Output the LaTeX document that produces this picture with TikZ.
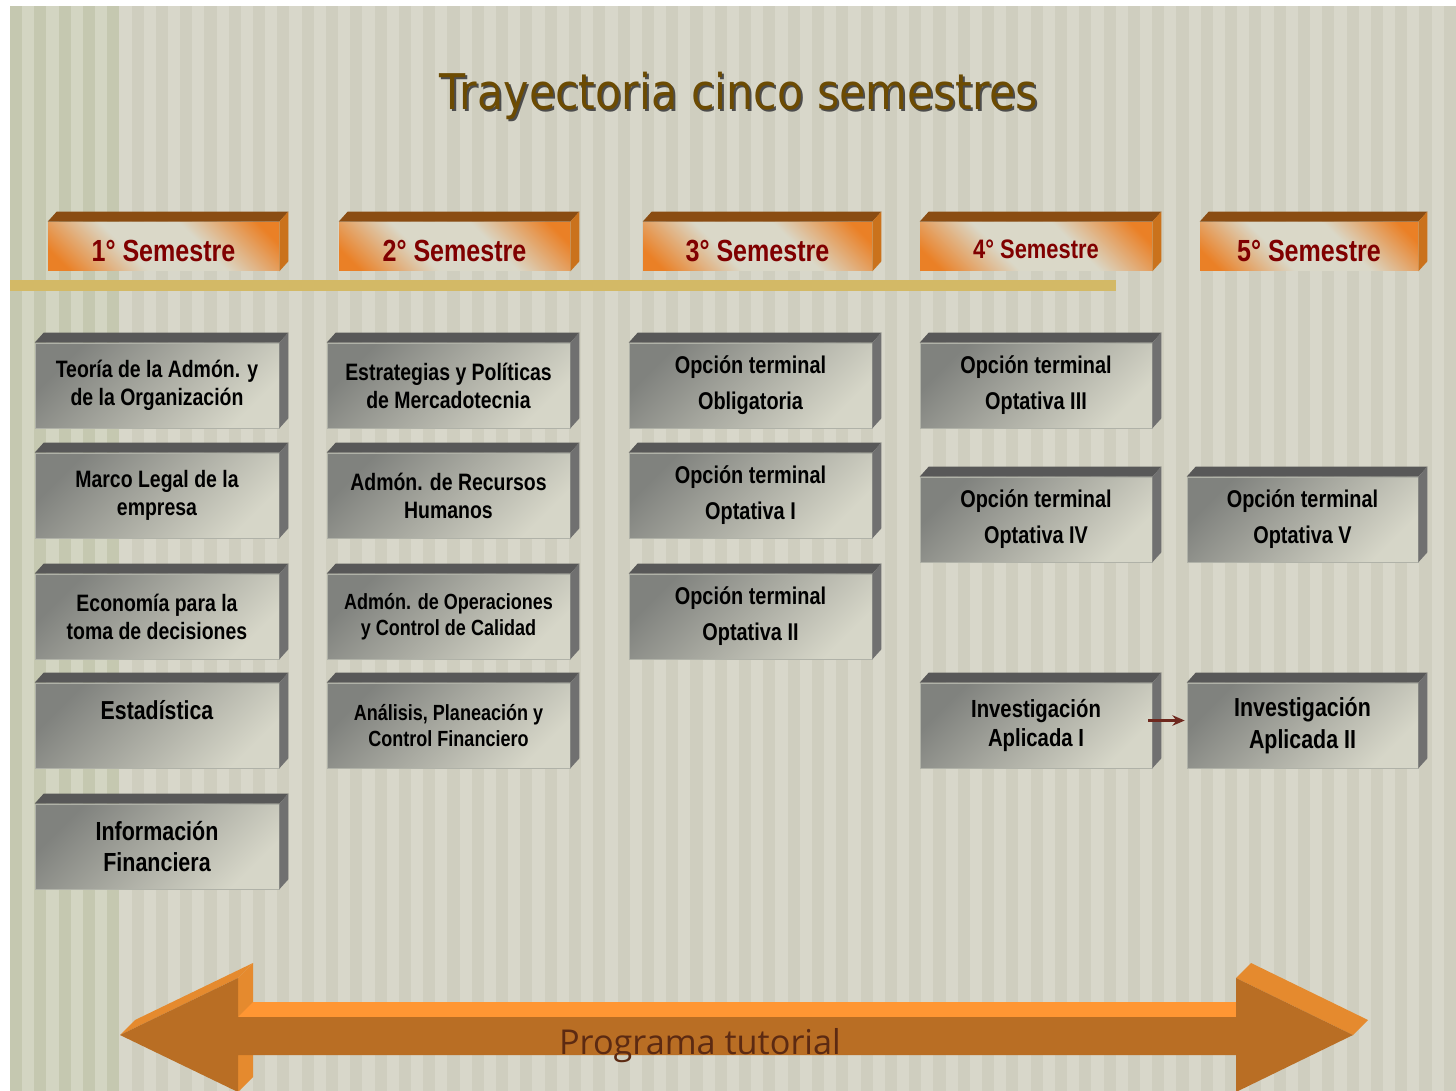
\documentclass[tikz,border=0pt]{standalone}
\usepackage{fontspec}
\setmainfont{Liberation Sans}
\newfontfamily\narrowsans{Liberation Sans}[FakeStretch=0.82]
\newfontfamily\titlesans{DejaVu Sans}[FakeStretch=0.87]
\newfontfamily\tutorsans{Open Sans}
\usetikzlibrary{arrows.meta, calc}
\definecolor{stripelight}{RGB}{216, 215, 202}
\definecolor{stripedark}{RGB}{207, 206, 191}
\definecolor{sagelight}{RGB}{211, 213, 194}
\definecolor{sagedark}{RGB}{197, 200, 176}
\definecolor{goldbar}{RGB}{211, 185, 102}
\definecolor{titlebrown}{RGB}{108, 75, 2}
\definecolor{semred}{RGB}{128, 0, 0}
\definecolor{semorange}{RGB}{234, 128, 38}
\definecolor{semlight}{RGB}{218, 216, 200}
\definecolor{semtop}{RGB}{138, 76, 18}
\definecolor{semside}{RGB}{202, 114, 28}
\definecolor{boxdark}{RGB}{128, 130, 126}
\definecolor{boxlight}{RGB}{214, 214, 200}
\definecolor{boxedge}{RGB}{176, 178, 168}
\definecolor{boxtop}{RGB}{88, 88, 88}
\definecolor{boxside}{RGB}{112, 112, 112}
\definecolor{arrowfront}{RGB}{185, 110, 36}
\definecolor{arrowlight}{RGB}{255, 150, 51}
\definecolor{arrowbevel}{RGB}{229, 138, 46}
\definecolor{tutorbrown}{RGB}{92, 42, 18}
\definecolor{linkbrown}{RGB}{110, 40, 30}
% Header face: orange corners, light diagonal band
\pgfdeclareverticalshading{semshade}{100bp}{color(0bp)=(semorange); color(20bp)=(semorange);
    color(40bp)=(semlight); color(60bp)=(semlight); color(80bp)=(semorange); color(100bp)=(semorange)}
\tikzset{
    % Semester header boxes
    sem box/.style={
        rectangle, inner sep=0pt, minimum width=4.62cm, minimum height=0.98cm,
        shading=semshade, shading angle=-45, text=semred,
        text height=0.62cm, text depth=0pt,
        font=\narrowsans\bfseries\fontsize{17.4}{20}\selectfont
    },
    sem top/.style={fill=semtop},
    sem side/.style={fill=semside},
    % Course boxes
    course box/.style={
        rectangle, inner sep=0pt, minimum width=4.86cm, minimum height=1.7cm,
        top color=boxdark, bottom color=boxlight, shading angle=45,
        draw=boxedge, line width=0.4pt, text=black, align=center,
        font=\narrowsans\bfseries\fontsize{13.5}{15.9}\selectfont
    },
    box top/.style={fill=boxtop},
    box side/.style={fill=boxside},
    % Option boxes (wider line spacing)
    option text/.style={
        font=\narrowsans\bfseries\fontsize{13.8}{20.4}\selectfont
    },
    small text/.style={
        font=\narrowsans\bfseries\fontsize{12.5}{14.7}\selectfont
    },
    % Arrows
    flow arrow/.style={
        -{Stealth[length=7pt, width=6pt]}, line width=1.2pt, color=linkbrown
    }
}
\begin{document}
\begin{tikzpicture}[x=0.02cm, y=-0.02cm]

    \useasboundingbox (0,0) rectangle (1456,1091);
    \clip (0,0) rectangle (1456,1091);

    % Background stripes
    \fill[white] (0,0) rectangle (1456,1091);
    \fill[stripelight] (10,6) rectangle (1456,1091);
    \fill[sagelight] (10,6) rectangle (119,1091);
    \foreach \i in {0,...,4} \fill[sagedark] (10+24.3*\i,6) rectangle ++(12.15,1085);
    \foreach \i in {5,...,59} \fill[stripedark] (10+24.3*\i,6) rectangle ++(12.15,1085);

    % Title
    \node[font=\titlesans\fontsize{28}{32}\selectfont, black!70] (titleshadow) at (741,98) {Trayectoria cinco semestres};
    \node[font=\titlesans\fontsize{28}{32}\selectfont, titlebrown] (title) at (739,96) {Trayectoria cinco semestres};

    % Gold rule under the headers
    \fill[goldbar] (10,280) rectangle (1116,291);

    % ======== SEMESTER HEADERS ========
    \node[sem box] (s1) at (163.5,246.5) {1° Semestre};
    \node[sem box] (s2) at (454.5,246.5) {2° Semestre};
    \node[sem box, minimum width=4.58cm] (s3) at (757.5,246.5) {3° Semestre};
    \node[sem box, minimum width=4.64cm, text height=0.5cm, font=\narrowsans\bfseries\fontsize{15.2}{18}\selectfont] (s4) at (1036,246.5) {4° Semestre};
    \node[sem box, minimum width=4.36cm] (s5) at (1309,246.5) {5° Semestre};

    \foreach \n in {s1,s2,s3,s4,s5} {
        \fill[sem top] (\n.north west) -- ++(9,-10) -- ($(\n.north east)+(9,-10)$) -- (\n.north east) -- cycle;
        \fill[sem side] (\n.north east) -- ++(9,-10) -- ($(\n.south east)+(9,-10)$) -- (\n.south east) -- cycle;
    }

    % ======== FIRST SEMESTER ========
    \node[course box, minimum width=4.88cm] (c11) at (157,385.5) {Teoría de la Admón. y\\de la Organización};
    \node[course box, minimum width=4.88cm] (c12) at (157,495.5) {Marco Legal de la\\empresa};
    \node[course box, minimum width=4.88cm] (c13) at (157,616.5) {Economía para la\\toma de decisiones};
    \node[course box, minimum width=4.88cm, font=\narrowsans\bfseries\fontsize{14.8}{17.6}\selectfont] (c14) at (157,725.5) {Estadística\\ \mbox{}};
    \node[course box, minimum width=4.88cm, font=\narrowsans\bfseries\fontsize{14.9}{17.6}\selectfont] (c15) at (157,846.5) {Información\\Financiera};

    % ======== SECOND SEMESTER ========
    \node[course box] (c21) at (448.5,385.5) {Estrategias y Políticas\\de Mercadotecnia};
    \node[course box] (c22) at (448.5,495.5) {Admón. de Recursos\\Humanos};
    \node[course box, small text] (c23) at (448.5,616.5) {Admón. de Operaciones\\y Control de Calidad};
    \node[course box, small text] (c24) at (448.5,725.5) {Análisis, Planeación y\\Control Financiero};

    % ======== THIRD SEMESTER ========
    \node[course box, option text] (c31) at (750.5,385.5) {Opción terminal\\Obligatoria};
    \node[course box, option text] (c32) at (750.5,495.5) {Opción terminal\\Optativa I};
    \node[course box, option text] (c33) at (750.5,616.5) {Opción terminal\\Optativa II};

    % ======== FOURTH SEMESTER ========
    \node[course box, option text, minimum width=4.64cm] (c41) at (1036,385.5) {Opción terminal\\Optativa III};
    \node[course box, option text, minimum width=4.64cm] (c42) at (1036,519.5) {Opción terminal\\Optativa IV};
    \node[course box, minimum width=4.64cm, font=\narrowsans\bfseries\fontsize{14.1}{16.4}\selectfont] (c43) at (1036,725.5) {Investigación\\Aplicada I};

    % ======== FIFTH SEMESTER ========
    \node[course box, option text, minimum width=4.62cm] (c51) at (1302.5,519.5) {Opción terminal\\Optativa V};
    \node[course box, minimum width=4.62cm, font=\narrowsans\bfseries\fontsize{14.85}{18.1}\selectfont] (c52) at (1302.5,725.5) {Investigación\\Aplicada II};

    % 3D faces of the course boxes
    \foreach \n in {c11,c12,c13,c14,c15,c21,c22,c23,c24,c31,c32,c33,c41,c42,c43,c51,c52} {
        \fill[box top] (\n.north west) -- ++(9,-10) -- ($(\n.north east)+(9,-10)$) -- (\n.north east) -- cycle;
        \fill[box side] (\n.north east) -- ++(9,-10) -- ($(\n.south east)+(9,-10)$) -- (\n.south east) -- cycle;
    }

    % Link between the two research courses
    \draw[flow arrow] ([xshift=-0.08cm, yshift=0.1cm]c43.east) -- ([xshift=-0.04cm, yshift=0.1cm]c52.west);

    % ======== PROGRAMA TUTORIAL (double arrow) ========
    \fill[arrowbevel] (238,978) -- (253,963) -- (253,1077) -- (238,1092) -- cycle;
    \fill[arrowlight] (238,1017) -- (253,1002) -- (1251,1002) -- (1236,1017) -- cycle;
    \fill[arrowbevel] (1236,978) -- (1251,963) -- (1368,1020) -- (1353,1035) -- cycle;
    \fill[arrowbevel] (120,1035) -- (135,1020) -- (253,963) -- (238,978) -- cycle;
    \fill[arrowfront] (120,1035) -- (238,978) -- (238,1017) -- (1236,1017) -- (1236,978)
        -- (1353,1035) -- (1236,1092) -- (1236,1055) -- (238,1055) -- (238,1092) -- cycle;
    \node[font=\tutorsans\fontsize{19.5}{22}\selectfont, tutorbrown] (tutor) at (700,1046) {Programa tutorial};

\end{tikzpicture}
\end{document}
